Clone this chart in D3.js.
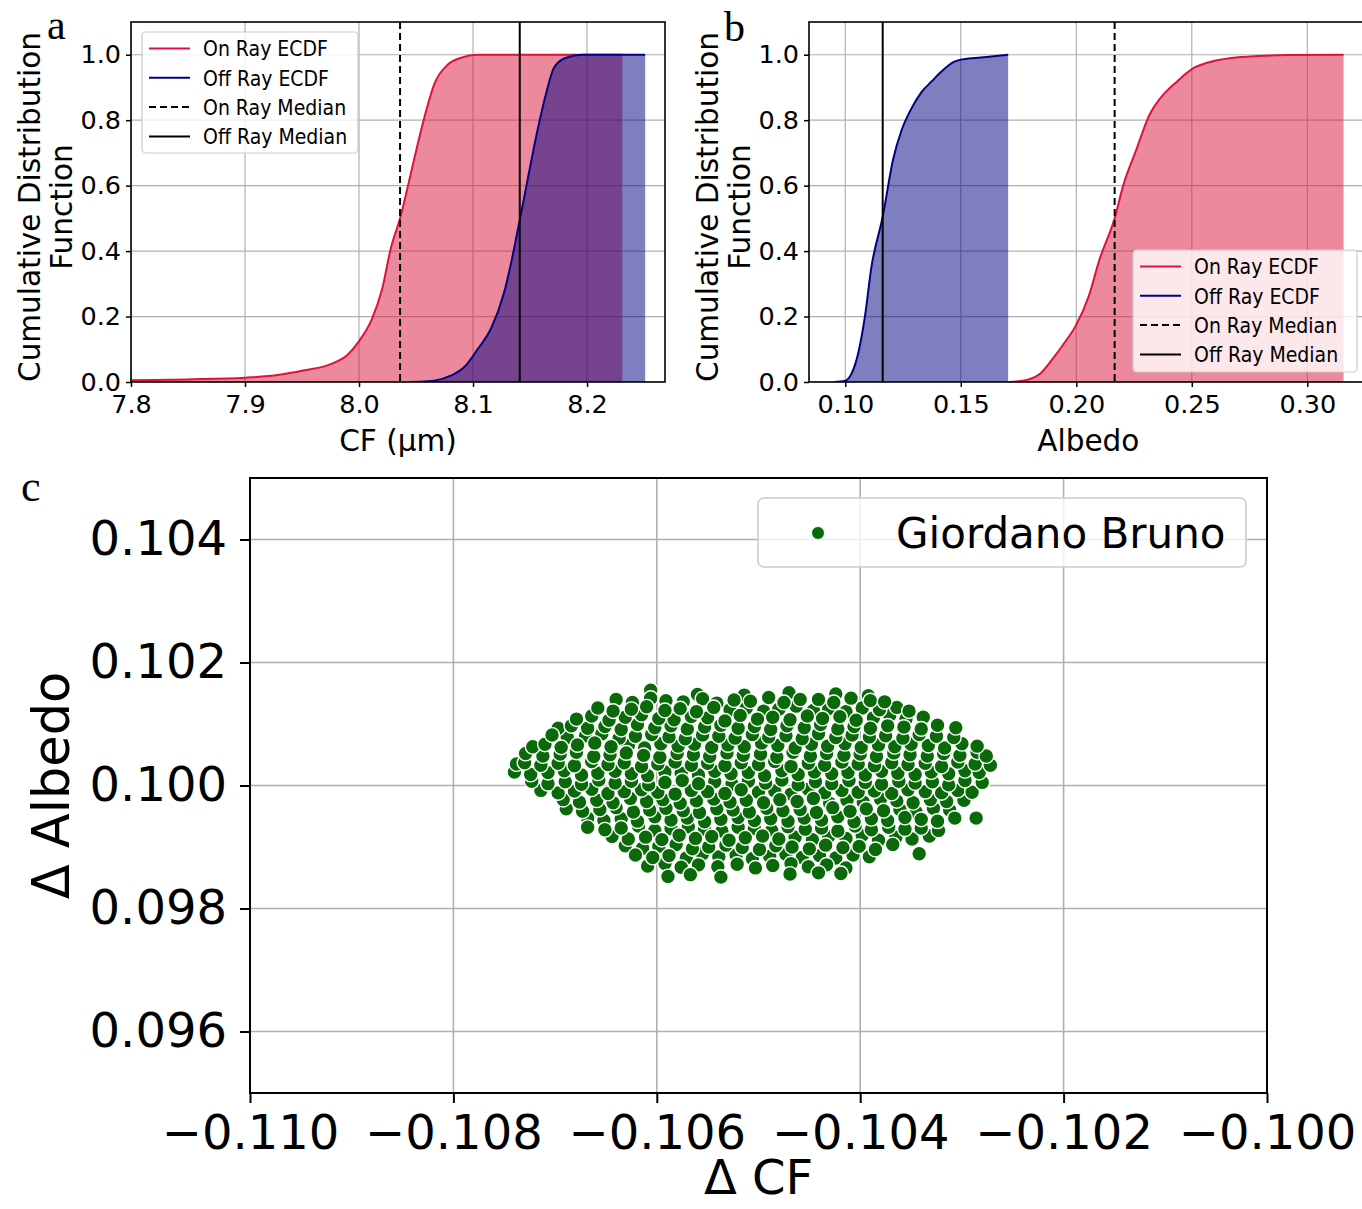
<!DOCTYPE html>
<html><head><meta charset="utf-8">
<script src="https://cdn.jsdelivr.net/npm/d3@7"></script>
<style>
body{margin:0;background:#fff}
svg{display:block}
text{font-family:"DejaVu Sans",sans-serif;fill:#000}
</style>
</head><body>
<svg id="chart" width="1362" height="1209"></svg>
<script>
// ---------- data ----------
const cdfTicks = [0, 0.2, 0.4, 0.6, 0.8, 1.0];
const cfTicks = [7.8, 7.9, 8.0, 8.1, 8.2];
const albedoTicks = [0.10, 0.15, 0.20, 0.25, 0.30];
const dCFTicks = [-0.110, -0.108, -0.106, -0.104, -0.102, -0.100];
const dAlbedoTicks = [0.096, 0.098, 0.100, 0.102, 0.104];
const legendLabels = ["On Ray ECDF", "Off Ray ECDF", "On Ray Median", "Off Ray Median"];
const panelLetters = ["a", "b", "c"];

// panel a: CF (µm)
const cfOnX  = [7.79, 7.85, 7.90, 7.93, 7.951, 7.974, 7.990, 8.000, 8.011, 8.020, 8.028, 8.036, 8.043, 8.051, 8.059, 8.066, 8.078, 8.089, 8.104, 8.231];
const cfOnY  = [0.005, 0.008, 0.013, 0.022, 0.035, 0.053, 0.083, 0.125, 0.19, 0.28, 0.41, 0.50, 0.60, 0.72, 0.83, 0.91, 0.97, 0.99, 1.0, 1.0];
const cfOffX = [8.045, 8.060, 8.066, 8.081, 8.093, 8.104, 8.116, 8.127, 8.135, 8.141, 8.148, 8.156, 8.164, 8.171, 8.181, 8.196, 8.251];
const cfOffY = [0.0, 0.002, 0.004, 0.02, 0.048, 0.10, 0.165, 0.27, 0.39, 0.495, 0.62, 0.76, 0.88, 0.96, 0.99, 1.0, 1.0];
const cfMedians = [8.036, 8.141]; // on ray, off ray

// panel b: Albedo
const albOnX  = [0.171, 0.179, 0.1846, 0.190, 0.1949, 0.1996, 0.2053, 0.210, 0.2166, 0.2203, 0.226, 0.2316, 0.2373, 0.2439, 0.2505, 0.2579, 0.2673, 0.2786, 0.2917, 0.3157];
const albOnY  = [0.0, 0.007, 0.027, 0.073, 0.12, 0.17, 0.26, 0.373, 0.50, 0.60, 0.71, 0.815, 0.875, 0.92, 0.958, 0.978, 0.99, 0.996, 0.999, 1.0];
const albOffX = [0.0953, 0.1000, 0.1028, 0.1056, 0.1085, 0.1113, 0.1162, 0.1207, 0.1244, 0.1282, 0.1329, 0.1376, 0.1414, 0.1470, 0.1500, 0.1600, 0.1705];
const albOffY = [0.0, 0.004, 0.027, 0.088, 0.20, 0.35, 0.505, 0.68, 0.77, 0.83, 0.885, 0.92, 0.947, 0.978, 0.985, 0.992, 1.0];
const albMedians = [0.2166, 0.1162]; // on ray, off ray

// panel c: Giordano Bruno  [Δ CF, Δ Albedo]
const scatterLabel = "Giordano Bruno";
const scatterPoints = [
[-.10606,.10155],[-.10560,.10148],[-.10514,.10147],[-.10470,.10151],[-.10424,.10149],[-.10392,.10146],
[-.10640,.10140],[-.10624,.10135],[-.10606,.10142],[-.10591,.10138],[-.10574,.10136],[-.10555,.10141],[-.10541,.10134],[-.10524,.10139],[-.10508,.10137],[-.10490,.10143],[-.10475,.10135],[-.10459,.10140],[-.10441,.10140],[-.10426,.10135],[-.10409,.10142],[-.10390,.10138],[-.10376,.10136],
[-.10658,.10126],[-.10643,.10121],[-.10625,.10124],[-.10610,.10128],[-.10592,.10122],[-.10577,.10125],[-.10561,.10120],[-.10544,.10127],[-.10528,.10123],[-.10512,.10126],[-.10495,.10121],[-.10480,.10124],[-.10463,.10129],[-.10446,.10122],[-.10431,.10125],[-.10414,.10120],[-.10398,.10126],[-.10381,.10123],[-.10364,.10127],[-.10352,.10121],
[-.10679,.10108],[-.10664,.10113],[-.10647,.10106],[-.10631,.10111],[-.10615,.10115],[-.10598,.10109],[-.10583,.10107],[-.10566,.10112],[-.10550,.10110],[-.10533,.10105],[-.10518,.10114],[-.10501,.10108],[-.10486,.10111],[-.10469,.10107],[-.10452,.10113],[-.10437,.10109],[-.10420,.10112],[-.10404,.10106],[-.10387,.10110],[-.10371,.10114],[-.10355,.10108],[-.10338,.10111],
[-.10697,.10093],[-.10684,.10097],[-.10668,.10093],[-.10651,.10096],[-.10635,.10091],[-.10619,.10099],[-.10602,.10094],[-.10586,.10097],[-.10570,.10092],[-.10553,.10095],[-.10537,.10098],[-.10520,.10093],[-.10504,.10096],[-.10488,.10091],[-.10472,.10097],[-.10455,.10094],[-.10439,.10099],[-.10422,.10092],[-.10406,.10096],[-.10390,.10093],[-.10373,.10097],[-.10357,.10095],[-.10340,.10092],[-.10324,.10098],[-.10306,.10094],
[-.10703,.10082],[-.10688,.10078],[-.10670,.10081],[-.10654,.10084],[-.10637,.10077],[-.10621,.10080],[-.10605,.10083],[-.10588,.10079],[-.10572,.10076],[-.10555,.10082],[-.10539,.10080],[-.10523,.10077],[-.10506,.10083],[-.10490,.10079],[-.10473,.10081],[-.10457,.10076],[-.10441,.10084],[-.10424,.10078],[-.10408,.10082],[-.10391,.10079],[-.10375,.10081],[-.10358,.10077],[-.10342,.10083],[-.10325,.10080],[-.10308,.10078],
[-.10722,.10063],[-.10710,.10067],[-.10694,.10062],[-.10678,.10066],[-.10661,.10069],[-.10645,.10063],[-.10628,.10065],[-.10612,.10061],[-.10596,.10068],[-.10579,.10064],[-.10563,.10067],[-.10546,.10062],[-.10530,.10066],[-.10514,.10063],[-.10497,.10069],[-.10481,.10065],[-.10464,.10061],[-.10448,.10067],[-.10432,.10064],[-.10415,.10068],[-.10399,.10062],[-.10382,.10066],[-.10366,.10063],[-.10350,.10067],[-.10333,.10065],[-.10317,.10061],[-.10300,.10068],[-.10285,.10064],
[-.10729,.10052],[-.10712,.10048],[-.10695,.10051],[-.10679,.10054],[-.10662,.10047],[-.10646,.10050],[-.10630,.10053],[-.10613,.10049],[-.10597,.10046],[-.10580,.10052],[-.10564,.10050],[-.10548,.10047],[-.10531,.10053],[-.10515,.10049],[-.10498,.10051],[-.10482,.10046],[-.10466,.10054],[-.10449,.10048],[-.10433,.10052],[-.10416,.10049],[-.10400,.10051],[-.10384,.10047],[-.10367,.10053],[-.10351,.10050],[-.10334,.10048],[-.10318,.10052],[-.10302,.10049],[-.10285,.10054],[-.10276,.10048],
[-.10738,.10035],[-.10730,.10037],[-.10714,.10033],[-.10697,.10036],[-.10681,.10032],[-.10664,.10039],[-.10648,.10034],[-.10632,.10037],[-.10615,.10031],[-.10599,.10035],[-.10582,.10038],[-.10566,.10033],[-.10550,.10036],[-.10533,.10032],[-.10517,.10037],[-.10500,.10034],[-.10484,.10039],[-.10468,.10031],[-.10451,.10036],[-.10435,.10033],[-.10418,.10038],[-.10402,.10035],[-.10386,.10032],[-.10369,.10037],[-.10353,.10034],[-.10336,.10036],[-.10320,.10031],[-.10304,.10038],[-.10287,.10035],[-.10272,.10033],
[-.10740,.10022],[-.10724,.10018],[-.10707,.10021],[-.10691,.10024],[-.10674,.10017],[-.10658,.10020],[-.10641,.10023],[-.10625,.10019],[-.10609,.10016],[-.10592,.10022],[-.10576,.10020],[-.10559,.10017],[-.10543,.10023],[-.10527,.10019],[-.10510,.10021],[-.10494,.10016],[-.10477,.10024],[-.10461,.10018],[-.10445,.10022],[-.10428,.10019],[-.10412,.10021],[-.10395,.10017],[-.10379,.10023],[-.10363,.10020],[-.10346,.10018],[-.10330,.10022],[-.10313,.10019],[-.10297,.10024],[-.10283,.10021],
[-.10723,.10007],[-.10707,.10003],[-.10690,.10006],[-.10674,.10002],[-.10657,.10009],[-.10641,.10004],[-.10625,.10007],[-.10608,.10001],[-.10592,.10005],[-.10575,.10008],[-.10559,.10003],[-.10543,.10006],[-.10526,.10002],[-.10510,.10007],[-.10493,.10004],[-.10477,.10009],[-.10461,.10001],[-.10444,.10006],[-.10428,.10003],[-.10411,.10008],[-.10395,.10005],[-.10379,.10002],[-.10362,.10007],[-.10346,.10004],[-.10329,.10006],[-.10313,.10001],[-.10297,.10008],[-.10280,.10005],
[-.10714,.09992],[-.10697,.09988],[-.10681,.09991],[-.10664,.09994],[-.10648,.09987],[-.10632,.09990],[-.10615,.09993],[-.10599,.09989],[-.10582,.09986],[-.10566,.09992],[-.10550,.09990],[-.10533,.09987],[-.10517,.09993],[-.10500,.09989],[-.10484,.09991],[-.10468,.09986],[-.10451,.09994],[-.10435,.09988],[-.10418,.09992],[-.10402,.09989],[-.10386,.09991],[-.10369,.09987],[-.10353,.09993],[-.10336,.09990],[-.10320,.09988],[-.10304,.09992],[-.10290,.09989],
[-.10692,.09977],[-.10676,.09973],[-.10659,.09976],[-.10643,.09972],[-.10626,.09979],[-.10610,.09974],[-.10594,.09977],[-.10577,.09971],[-.10561,.09975],[-.10544,.09978],[-.10528,.09973],[-.10512,.09976],[-.10495,.09972],[-.10479,.09977],[-.10462,.09974],[-.10446,.09979],[-.10430,.09971],[-.10413,.09976],[-.10397,.09973],[-.10380,.09978],[-.10364,.09975],[-.10348,.09972],[-.10331,.09977],[-.10315,.09974],[-.10298,.09976],[-.10286,.09947],
[-.10689,.09962],[-.10673,.09958],[-.10656,.09961],[-.10640,.09964],[-.10623,.09957],[-.10607,.09960],[-.10591,.09963],[-.10574,.09959],[-.10558,.09956],[-.10541,.09962],[-.10525,.09960],[-.10509,.09957],[-.10492,.09963],[-.10476,.09959],[-.10459,.09961],[-.10443,.09956],[-.10427,.09964],[-.10410,.09958],[-.10394,.09962],[-.10377,.09959],[-.10361,.09961],[-.10345,.09957],[-.10328,.09963],[-.10312,.09960],
[-.10668,.09947],[-.10652,.09943],[-.10635,.09946],[-.10619,.09942],[-.10602,.09949],[-.10586,.09944],[-.10570,.09947],[-.10553,.09941],[-.10537,.09945],[-.10520,.09948],[-.10504,.09943],[-.10488,.09946],[-.10471,.09942],[-.10455,.09947],[-.10438,.09944],[-.10422,.09949],[-.10406,.09941],[-.10389,.09946],[-.10373,.09943],[-.10356,.09948],[-.10340,.09945],[-.10324,.09942],[-.10307,.09947],
[-.10668,.09932],[-.10651,.09928],[-.10635,.09931],[-.10618,.09934],[-.10602,.09927],[-.10586,.09930],[-.10569,.09933],[-.10553,.09929],[-.10536,.09926],[-.10520,.09932],[-.10504,.09930],[-.10487,.09927],[-.10471,.09933],[-.10454,.09929],[-.10438,.09931],[-.10422,.09926],[-.10405,.09934],[-.10389,.09928],[-.10372,.09932],[-.10356,.09929],[-.10340,.09931],[-.10323,.09927],
[-.10644,.09917],[-.10628,.09913],[-.10611,.09916],[-.10595,.09912],[-.10578,.09919],[-.10562,.09914],[-.10546,.09917],[-.10529,.09911],[-.10513,.09915],[-.10496,.09918],[-.10480,.09913],[-.10464,.09916],[-.10447,.09912],[-.10431,.09917],[-.10414,.09914],[-.10398,.09919],[-.10382,.09911],[-.10365,.09916],[-.10349,.09913],[-.10332,.09918],
[-.10631,.09902],[-.10614,.09898],[-.10598,.09901],[-.10581,.09904],[-.10565,.09897],[-.10549,.09900],[-.10532,.09903],[-.10516,.09899],[-.10499,.09896],[-.10483,.09902],[-.10467,.09900],[-.10450,.09897],[-.10434,.09903],[-.10417,.09899],[-.10401,.09901],[-.10385,.09896],[-.10368,.09904],[-.10342,.09889],
[-.10621,.09887],[-.10604,.09883],[-.10588,.09886],[-.10571,.09882],[-.10555,.09889],[-.10539,.09884],[-.10522,.09887],[-.10506,.09881],[-.10489,.09885],[-.10473,.09888],[-.10457,.09883],[-.10440,.09886],[-.10424,.09882],[-.10407,.09887],[-.10391,.09884],
[-.10609,.09869],[-.10592,.09873],[-.10576,.09867],[-.10559,.09871],[-.10540,.09868],[-.10521,.09872],[-.10503,.09866],[-.10486,.09870],[-.10468,.09873],[-.10451,.09868],[-.10433,.09871],[-.10414,.09866],
[-.10589,.09852],[-.10567,.09855],[-.10537,.09851],[-.10469,.09856],[-.10441,.09858],[-.10419,.09857]
];

// ---------- drawing ----------
const svg = d3.select("#chart");
const RED = "#dc143c", BLUE = "#000080", GRID = "#b0b0b0", GREEN = "#0a6a0a";
const SERIF = "'Liberation Serif','Times New Roman',serif";
const zip = (xs, ys) => xs.map((v, i) => [v, ys[i]]);

function ecdfPanel(cfg) {
  const g = svg.append("g");
  const x = d3.scaleLinear().domain(cfg.xDomain).range([cfg.l, cfg.r]);
  const y = d3.scaleLinear().domain([0, 1.1]).range([cfg.b, cfg.t]);
  const clipId = "clip" + cfg.id;
  svg.append("clipPath").attr("id", clipId).append("rect")
    .attr("x", cfg.l).attr("y", cfg.t).attr("width", cfg.r - cfg.l).attr("height", cfg.b - cfg.t);
  const plot = g.append("g").attr("clip-path", `url(#${clipId})`);

  // grid
  plot.selectAll(".vg").data(cfg.xTicks).join("line")
    .attr("x1", d => x(d)).attr("x2", d => x(d)).attr("y1", cfg.t).attr("y2", cfg.b)
    .attr("stroke", GRID).attr("stroke-width", 1.2);
  plot.selectAll(".hg").data(cdfTicks).join("line")
    .attr("y1", d => y(d)).attr("y2", d => y(d)).attr("x1", cfg.l).attr("x2", cfg.r)
    .attr("stroke", GRID).attr("stroke-width", 1.2);

  const area = d3.area().x(d => x(d[0])).y0(y(0)).y1(d => y(d[1])).curve(d3.curveMonotoneX);
  const line = d3.line().x(d => x(d[0])).y(d => y(d[1])).curve(d3.curveMonotoneX);
  const on = zip(cfg.onX, cfg.onY), off = zip(cfg.offX, cfg.offY);

  plot.append("path").attr("d", area(on)).attr("fill", RED).attr("fill-opacity", 0.5);
  plot.append("path").attr("d", area(off)).attr("fill", BLUE).attr("fill-opacity", 0.5);
  plot.append("path").attr("d", line(on)).attr("fill", "none").attr("stroke", RED).attr("stroke-width", 2);
  plot.append("path").attr("d", line(off)).attr("fill", "none").attr("stroke", BLUE).attr("stroke-width", 2);

  // medians
  plot.append("line").attr("x1", x(cfg.medians[0])).attr("x2", x(cfg.medians[0]))
    .attr("y1", cfg.t).attr("y2", cfg.b).attr("stroke", "#000").attr("stroke-width", 2)
    .attr("stroke-dasharray", "7,4");
  plot.append("line").attr("x1", x(cfg.medians[1])).attr("x2", x(cfg.medians[1]))
    .attr("y1", cfg.t).attr("y2", cfg.b).attr("stroke", "#000").attr("stroke-width", 2);

  // spines
  g.append("rect").attr("x", cfg.l).attr("y", cfg.t).attr("width", cfg.r - cfg.l).attr("height", cfg.b - cfg.t)
    .attr("fill", "none").attr("stroke", "#000").attr("stroke-width", 1.6);

  // axes
  const ax = g.append("g").attr("transform", `translate(0,${cfg.b})`)
    .call(d3.axisBottom(x).tickValues(cfg.xTicks).tickFormat(d3.format(cfg.fmt)).tickSize(5).tickPadding(8));
  const ay = g.append("g").attr("transform", `translate(${cfg.l},0)`)
    .call(d3.axisLeft(y).tickValues(cdfTicks).tickFormat(d3.format(".1f")).tickSize(5).tickPadding(5));
  [ax, ay].forEach(a => {
    a.select(".domain").remove();
    a.selectAll(".tick line").attr("stroke", "#000").attr("stroke-width", 1.5);
    a.selectAll(".tick text").attr("font-size", 25.5).attr("font-family", "DejaVu Sans").attr("fill", "#000");
  });

  // labels
  g.append("text").attr("x", (cfg.l + cfg.r) / 2).attr("y", 451).attr("text-anchor", "middle")
    .attr("font-size", 29.5).text(cfg.xLabel);
  const yl = g.append("text").attr("transform", `rotate(-90)`).attr("text-anchor", "middle").attr("font-size", 29.5);
  yl.append("tspan").attr("x", -207).attr("y", cfg.l - 91).text("Cumulative Distribution");
  yl.append("tspan").attr("x", -207).attr("y", cfg.l - 59).text("Function");

  // legend
  const L = cfg.legend;
  const lg = g.append("g");
  lg.append("rect").attr("x", L.x).attr("y", L.y).attr("width", L.w).attr("height", L.h).attr("rx", 4)
    .attr("fill", "#fff").attr("fill-opacity", 0.8).attr("stroke", "#cccccc").attr("stroke-width", 1.2);
  const styles = [
    {c: RED, dash: null}, {c: BLUE, dash: null}, {c: "#000", dash: "7,4"}, {c: "#000", dash: null}
  ];
  legendLabels.forEach((lab, i) => {
    const cy = L.y + 16.5 + i * 29.3;
    lg.append("line").attr("x1", L.x + 7).attr("x2", L.x + 48).attr("y1", cy).attr("y2", cy)
      .attr("stroke", styles[i].c).attr("stroke-width", 2).attr("stroke-dasharray", styles[i].dash);
    lg.append("text").attr("transform", `translate(${L.x + 61},${cy}) scale(0.86,1)`)
      .attr("dy", "0.36em").attr("font-size", 22).text(lab);
  });

  // panel letter
  svg.append("text").attr("x", cfg.letterX).attr("y", cfg.letterY)
    .style("font-family", SERIF).attr("font-size", 42).text(cfg.letter);
}

ecdfPanel({
  id: "a", l: 131, r: 665, t: 22, b: 382, xDomain: [7.8, 8.2684], xTicks: cfTicks, fmt: ".1f",
  onX: cfOnX, onY: cfOnY, offX: cfOffX, offY: cfOffY, medians: cfMedians, xLabel: "CF (µm)",
  legend: {x: 142, y: 32, w: 216, h: 121}, letter: panelLetters[0], letterX: 47, letterY: 39
});
ecdfPanel({
  id: "b", l: 809, r: 1367.6, t: 22, b: 382, xDomain: [0.0843, 0.3261], xTicks: albedoTicks, fmt: ".2f",
  onX: albOnX, onY: albOnY, offX: albOffX, offY: albOffY, medians: albMedians, xLabel: "Albedo",
  legend: {x: 1133, y: 250, w: 224, h: 122}, letter: panelLetters[1], letterX: 724, letterY: 41
});

// ---------- panel c ----------
(function () {
  const l = 250, r = 1267, t = 478, b = 1093;
  const g = svg.append("g");
  const x = d3.scaleLinear().domain([-0.110, -0.100]).range([l, r]);
  const y = d3.scaleLinear().domain([0.095, 0.105]).range([b, t]);

  g.selectAll(".vg").data(dCFTicks).join("line")
    .attr("x1", d => x(d)).attr("x2", d => x(d)).attr("y1", t).attr("y2", b)
    .attr("stroke", GRID).attr("stroke-width", 1.6);
  g.selectAll(".hg").data(dAlbedoTicks).join("line")
    .attr("y1", d => y(d)).attr("y2", d => y(d)).attr("x1", l).attr("x2", r)
    .attr("stroke", GRID).attr("stroke-width", 1.6);

  const n = scatterPoints.length;
  const order = d3.range(n).map(i => scatterPoints[(i * 211) % n]);
  g.append("g").selectAll("circle").data(order).join("circle")
    .attr("cx", d => x(d[0])).attr("cy", d => y(d[1])).attr("r", 7.4)
    .attr("fill", GREEN).attr("stroke", "#fff").attr("stroke-width", 1.4);

  g.append("rect").attr("x", l).attr("y", t).attr("width", r - l).attr("height", b - t)
    .attr("fill", "none").attr("stroke", "#000").attr("stroke-width", 2);

  const ax = g.append("g").attr("transform", `translate(0,${b})`)
    .call(d3.axisBottom(x).tickValues(dCFTicks).tickFormat(d3.format(".3f")).tickSize(10).tickPadding(12));
  const ay = g.append("g").attr("transform", `translate(${l},0)`)
    .call(d3.axisLeft(y).tickValues(dAlbedoTicks).tickFormat(d3.format(".3f")).tickSize(10).tickPadding(13));
  [ax, ay].forEach(a => {
    a.select(".domain").remove();
    a.selectAll(".tick line").attr("stroke", "#000").attr("stroke-width", 2);
    a.selectAll(".tick text").attr("font-size", 48).attr("font-family", "DejaVu Sans").attr("fill", "#000");
  });

  g.append("text").attr("x", (l + r) / 2).attr("y", 1194).attr("text-anchor", "middle")
    .attr("font-size", 48).text("Δ CF");
  g.append("text").attr("transform", `translate(69,${(t + b) / 2}) rotate(-90)`).attr("text-anchor", "middle")
    .attr("font-size", 51).text("Δ Albedo");

  // legend
  const lg = g.append("g");
  lg.append("rect").attr("x", 758).attr("y", 498).attr("width", 488).attr("height", 69).attr("rx", 6)
    .attr("fill", "#fff").attr("fill-opacity", 0.8).attr("stroke", "#cccccc").attr("stroke-width", 1.6);
  lg.append("circle").attr("cx", 818).attr("cy", 533).attr("r", 6.5).attr("fill", GREEN)
    .attr("stroke", "#fff").attr("stroke-width", 1);
  lg.append("text").attr("x", 896).attr("y", 533).attr("dy", "0.36em").attr("font-size", 42).text(scatterLabel);

  svg.append("text").attr("x", 21).attr("y", 501)
    .style("font-family", SERIF).attr("font-size", 44).text(panelLetters[2]);
})();
</script>
</body></html>
